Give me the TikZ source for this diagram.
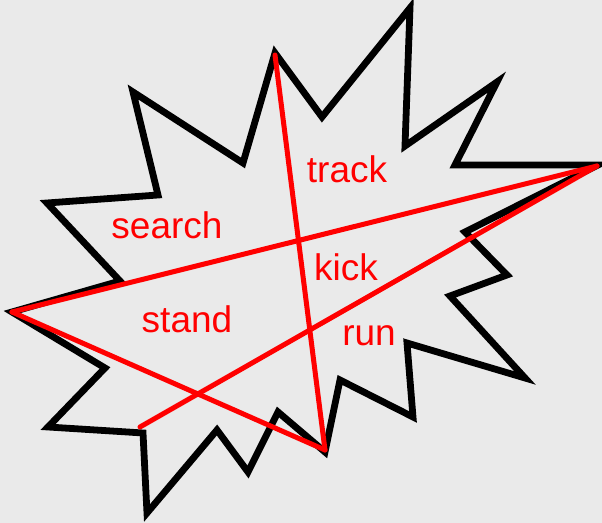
\documentclass[tikz,border=0pt]{standalone}
\usepackage{fontspec}
\setmainfont{Liberation Sans}
\usetikzlibrary{positioning}
\definecolor{bggray}{RGB}{234,234,234}
\tikzset{
  burst/.style={draw=black,line width=3.4pt,line join=miter,miter limit=20},
  edge/.style={draw=red,line width=2.5pt,line cap=round,line join=round},
  lbl/.style={text=red,inner sep=0pt,font=\fontsize{18.5}{20}\selectfont},
}

\begin{document}
\begin{tikzpicture}[x=0.5pt,y=-0.5pt]
  % background
  \fill[bggray] (0,0) rectangle (602,523);
  \useasboundingbox (0,0) rectangle (602,523);
  % explosion outline
  \draw[burst] (275,53) -- (322,117) -- (410,8) -- (405,146) -- (497,82)
    -- (455,165) -- (598,165) -- (465,232) -- (507,275) -- (450,296)
    -- (525,378) -- (407,343) -- (413,417) -- (340,380) -- (325,452)
    -- (278,412) -- (248,472) -- (217,430) -- (147,513) -- (143,433)
    -- (48,427) -- (105,368) -- (12,312) -- (120,281) -- (47,203)
    -- (158,195) -- (133,92) -- (243,163) -- cycle;
  % corners of the red figure
  \coordinate (top) at (275,55);
  \coordinate (lft) at (12,312);
  \coordinate (rgt) at (597,166);
  \coordinate (bot) at (325,450);
  \coordinate (tail) at (140,427);
  % labels
  \node[lbl] (track) at (347,169) {track};
  \node[lbl] (search) at (167,225) {search};
  \node[lbl] (kick) at (346,267) {kick};
  \node[lbl] (stand) at (187,319) {stand};
  \node[lbl] (run) at (369,336) {run};
  % red lines
  \draw[edge] (top) -- (bot);
  \draw[edge] (lft) -- (rgt);
  \draw[edge] (lft) -- (bot);
  \draw[edge] (rgt) -- (tail);
\end{tikzpicture}
\end{document}
